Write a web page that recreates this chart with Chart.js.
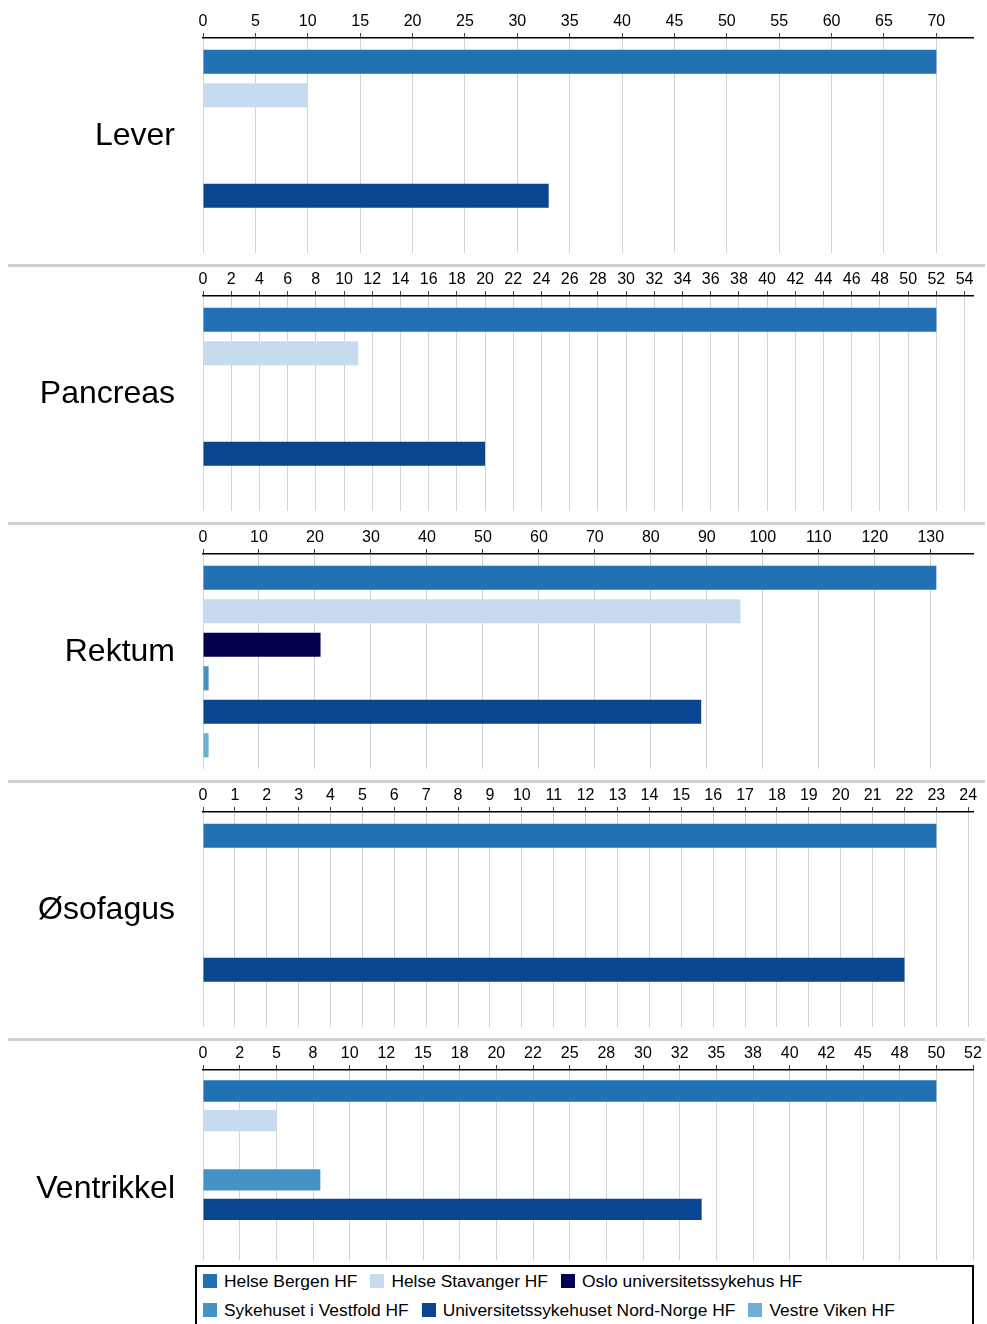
<!DOCTYPE html>
<html>
<head>
<meta charset="utf-8">
<script src="https://cdn.jsdelivr.net/npm/chart.js@4.4.1/dist/chart.umd.min.js"></script>
<style>
  body { margin: 0; width: 987px; height: 1324px; overflow: hidden; background: #fff; position: relative;
         font-family: "Liberation Sans", Arial, sans-serif; }
  .panel { position: absolute; left: 0; }
  .sep { position: absolute; left: 8px; width: 977px; height: 3px; background: #d0d0d0; }
  #legend { position: absolute; left: 195px; top: 1265px; width: 779px; height: 64px; box-sizing: border-box;
            border: 2px solid #000; padding-left: 6px; font-size: 17.4px; line-height: 29px; color: #000; }
  #legend .item { display: inline-block; margin-right: 13px; white-space: nowrap; }
  #legend .item i { display: inline-block; width: 14px; height: 14px; margin-right: 7px; vertical-align: -1px; }
</style>
</head>
<body>
<div id="legend"></div>
<script>
// Series (one bar per hospital in each panel)
const seriesNames = ['Helse Bergen HF', 'Helse Stavanger HF', 'Oslo universitetssykehus HF',
                     'Sykehuset i Vestfold HF', 'Universitetssykehuset Nord-Norge HF', 'Vestre Viken HF'];
const seriesColors = ['#2172b4', '#c6dbef', '#03004f', '#4493c6', '#0a4592', '#6baed6'];

// Panels
const categories = ['Lever', 'Pancreas', 'Rektum', 'Øsofagus', 'Ventrikkel'];
const leverValues = [70, 10, null, null, 33, null];
const pancreasValues = [52, 11, null, null, 20, null];
const rektumValues = [131, 96, 21, 1, 89, 1];
const osofagusValues = [23, null, null, null, 22, null];
const ventrikkelValues = [50, 5, null, 8, 34, null];
const panelValues = [leverValues, pancreasValues, rektumValues, osofagusValues, ventrikkelValues];

// Tick step of the top axis in each panel
const tickSteps = [5, 2, 10, 1, 2.5];

// layout
const panelTop = [0, 258, 516, 774, 1032];
const panelHeight = [258, 258, 258, 258, 234];
const panelBottomPad = [5, 5, 5, 5, 6];
const labelShift = [-9, -9, -9, -9, 24];
const FONT = '"Liberation Sans", Arial, sans-serif';

// round half to even, as the original axis labels do (2.5 -> 2, 7.5 -> 8)
function roundHalfEven(v) {
    const f = Math.floor(v);
    if (Math.abs(v - f - 0.5) < 1e-9) return f % 2 === 0 ? f : f + 1;
    return Math.round(v);
}

categories.forEach((cat, p) => {
    const div = document.createElement('div');
    div.className = 'panel';
    div.style.top = panelTop[p] + 'px';
    const canvas = document.createElement('canvas');
    canvas.width = 987;
    canvas.height = panelHeight[p];
    div.appendChild(canvas);
    document.body.appendChild(div);

    const values = panelValues[p];
    const maxVal = Math.max(...values.filter(v => v !== null));
    const step = tickSteps[p];

    new Chart(canvas.getContext('2d'), {
        type: 'bar',
        data: {
            labels: [cat],
            datasets: seriesNames.map((name, i) => ({
                label: name,
                data: [values[i]],
                backgroundColor: seriesColors[i],
                borderWidth: 0,
                categoryPercentage: 0.935,
                barPercentage: 0.72
            }))
        },
        options: {
            indexAxis: 'y',
            responsive: false,
            animation: false,
            devicePixelRatio: 1,
            layout: { padding: { top: 0, right: 14, bottom: panelBottomPad[p], left: 0 } },
            plugins: { legend: { display: false }, tooltip: { enabled: false } },
            scales: {
                x: {
                    position: 'top',
                    min: 0,
                    max: maxVal * 1.05,
                    afterBuildTicks: scale => {
                        const ticks = [];
                        for (let v = 0; v <= scale.max + 1e-9; v += step) ticks.push({ value: Math.round(v * 100) / 100 });
                        scale.ticks = ticks;
                    },
                    afterFit: scale => { scale.height = 38; },
                    ticks: {
                        autoSkip: false,
                        maxRotation: 0,
                        padding: 2,
                        color: '#000',
                        font: { family: FONT, size: 16 },
                        callback: v => roundHalfEven(v)
                    },
                    grid: { color: '#d3d3d3', lineWidth: 1, tickColor: '#444', tickLength: 5 },
                    border: { display: true, color: '#000', width: 1.5 }
                },
                y: {
                    grid: { display: false, drawTicks: false },
                    border: { display: false },
                    afterFit: scale => {
                        scale.width = 203;
                        scale.paddingTop = 0;
                        scale.paddingBottom = 0;
                    },
                    ticks: {
                        padding: 28,
                        labelOffset: labelShift[p],
                        color: '#000',
                        font: { family: FONT, size: 32 }
                    }
                }
            }
        }
    });
});

// separators between the panels
[264, 522, 780, 1038].forEach(y => {
    const s = document.createElement('div');
    s.className = 'sep';
    s.style.top = y + 'px';
    document.body.appendChild(s);
});

// legend
const legend = document.getElementById('legend');
seriesNames.forEach((name, i) => {
    const item = document.createElement('span');
    item.className = 'item';
    item.innerHTML = '<i style="background:' + seriesColors[i] + '"></i>' + name;
    legend.appendChild(item);
});
</script>
</body>
</html>
